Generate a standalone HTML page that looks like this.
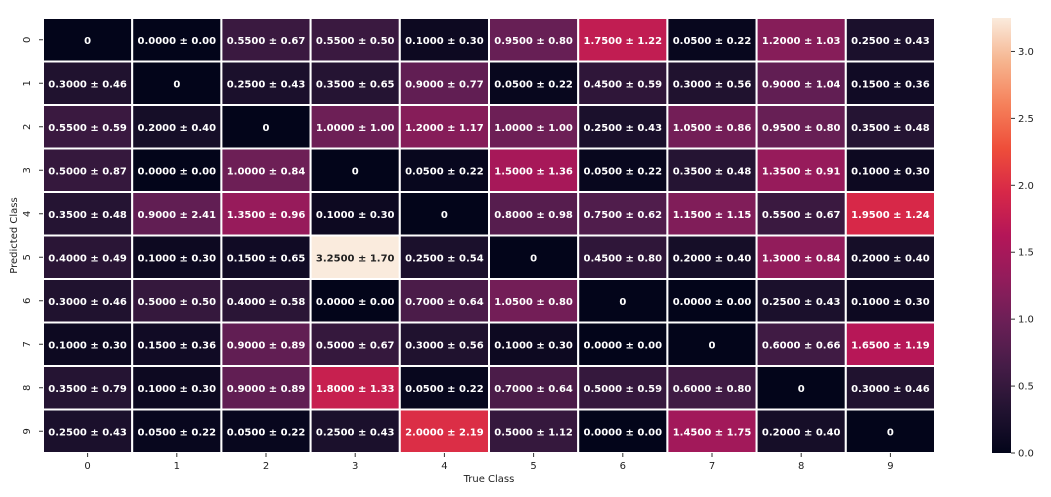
<!DOCTYPE html>
<html><head><meta charset="utf-8"><style>
body{margin:0;background:#fff;}
svg{display:block;font-family:"DejaVu Sans","Liberation Sans",sans-serif;}
</style></head><body>
<svg id="chart" width="1051" height="497" xmlns="http://www.w3.org/2000/svg">
<defs><linearGradient id="cbgrad" x1="0" y1="1" x2="0" y2="0"></linearGradient></defs>
</svg>
<script>
const classes = ['0','1','2','3','4','5','6','7','8','9'];
const means = [
[0,0.00,0.55,0.55,0.10,0.95,1.75,0.05,1.20,0.25],
[0.30,0,0.25,0.35,0.90,0.05,0.45,0.30,0.90,0.15],
[0.55,0.20,0,1.00,1.20,1.00,0.25,1.05,0.95,0.35],
[0.50,0.00,1.00,0,0.05,1.50,0.05,0.35,1.35,0.10],
[0.35,0.90,1.35,0.10,0,0.80,0.75,1.15,0.55,1.95],
[0.40,0.10,0.15,3.25,0.25,0,0.45,0.20,1.30,0.20],
[0.30,0.50,0.40,0.00,0.70,1.05,0,0.00,0.25,0.10],
[0.10,0.15,0.90,0.50,0.30,0.10,0.00,0,0.60,1.65],
[0.35,0.10,0.90,1.80,0.05,0.70,0.50,0.60,0,0.30],
[0.25,0.05,0.05,0.25,2.00,0.50,0.00,1.45,0.20,0]];
const stds = [
[null,0.00,0.67,0.50,0.30,0.80,1.22,0.22,1.03,0.43],
[0.46,null,0.43,0.65,0.77,0.22,0.59,0.56,1.04,0.36],
[0.59,0.40,null,1.00,1.17,1.00,0.43,0.86,0.80,0.48],
[0.87,0.00,0.84,null,0.22,1.36,0.22,0.48,0.91,0.30],
[0.48,2.41,0.96,0.30,null,0.98,0.62,1.15,0.67,1.24],
[0.49,0.30,0.65,1.70,0.54,null,0.80,0.40,0.84,0.40],
[0.46,0.50,0.58,0.00,0.64,0.80,null,0.00,0.43,0.30],
[0.30,0.36,0.89,0.67,0.56,0.30,0.00,null,0.66,1.19],
[0.79,0.30,0.89,1.33,0.22,0.64,0.59,0.80,null,0.46],
[0.43,0.22,0.22,0.43,2.19,1.12,0.00,1.75,0.40,null]];
const cbTicks = [0.0,0.5,1.0,1.5,2.0,2.5,3.0];
const vmin = 0, vmax = 3.25;
const stops = [[0,[3,5,26]],[0.1,[34,19,49]],[0.2,[69,28,71]],[0.3,[106,31,86]],[0.4,[146,28,91]],[0.5,[180,22,88]],[0.6,[215,40,72]],[0.7,[238,78,58]],[0.8,[245,128,90]],[0.9,[246,180,142]],[1,[250,235,221]]];
function cmap(t){t=Math.max(0,Math.min(1,t));for(let i=1;i<stops.length;i++){if(t<=stops[i][0]){const a=stops[i-1],b=stops[i];const f=(t-a[0])/(b[0]-a[0]);const c=a[1].map((v,k)=>Math.round(v+(b[1][k]-v)*f));return `rgb(${c.join(',')})`;}}return 'rgb(250,235,221)';}
const L=43,R=935,T=18,B=453;
const cw=(R-L)/classes.length, ch=(B-T)/classes.length;
const xs=i=>L+i*cw, ys=j=>T+j*ch;
const svg=document.getElementById('chart');
const NS='http://www.w3.org/2000/svg';
function mk(tag,attrs,parent){const e=document.createElementNS(NS,tag);for(const k in attrs)e.setAttribute(k,attrs[k]);(parent||svg).appendChild(e);return e;}
const g=mk('g',{});


for(let r=0;r<means.length;r++)for(let c=0;c<means[r].length;c++){
 const v=means[r][c];
 const rect=mk('rect',{x:xs(c),y:ys(r),width:cw,height:ch,fill:cmap((v-vmin)/(vmax-vmin)),stroke:'#fff','stroke-width':2},g);
 
 
 const t=(v-vmin)/(vmax-vmin);
 const txt=mk('text',{x:xs(c)+cw/2,y:ys(r)+ch/2+4,'text-anchor':'middle','font-size':10,'font-weight':'bold',fill:t>0.7?'#222':'#fff'},g);
 
 
 txt.textContent=stds[r][c]===null?String(v):v.toFixed(4)+' ± '+stds[r][c].toFixed(2);
}
for(let i=0;i<classes.length;i++){
 mk('line',{x1:xs(i)+cw/2,x2:xs(i)+cw/2,y1:B,y2:B+4,stroke:'#333'});
 const xt=mk('text',{x:xs(i)+cw/2,y:B+16,'text-anchor':'middle','font-size':10,fill:'#222'});
 
 
 xt.textContent=classes[i];
 mk('line',{x1:L-4,x2:L,y1:ys(i)+ch/2,y2:ys(i)+ch/2,stroke:'#333'});
 const yy=ys(i)+ch/2;
 const yt=mk('text',{x:30,y:yy,'text-anchor':'middle','font-size':10,fill:'#222',transform:`rotate(-90 30 ${yy})`});
 
 
 yt.textContent=classes[i];
}
const xl=mk('text',{x:(L+R)/2,y:482,'text-anchor':'middle','font-size':10,fill:'#222'});


xl.textContent='True Class';
const yl=mk('text',{x:17,y:(T+B)/2,'text-anchor':'middle','font-size':10,fill:'#222',transform:`rotate(-90 17 ${(T+B)/2})`});


yl.textContent='Predicted Class';
const grad=document.getElementById('cbgrad');
for(let i=0;i<=20;i++){mk('stop',{offset:(i/20),'stop-color':cmap(i/20)},grad);}
const CL=992,CW=19;
const cy=v=>B-(v-vmin)/(vmax-vmin)*(B-T);
const cb=mk('rect',{x:CL,y:T,width:CW,height:B-T,fill:'url(#cbgrad)'});


cbTicks.forEach(v=>{
 mk('line',{x1:CL+CW,x2:CL+CW+4,y1:cy(v),y2:cy(v),stroke:'#333'});
 const t=mk('text',{x:CL+CW+7,y:cy(v)+3.5,'font-size':10,fill:'#222'});
 
 
 t.textContent=v.toFixed(1);
});
</script>
</body></html>
